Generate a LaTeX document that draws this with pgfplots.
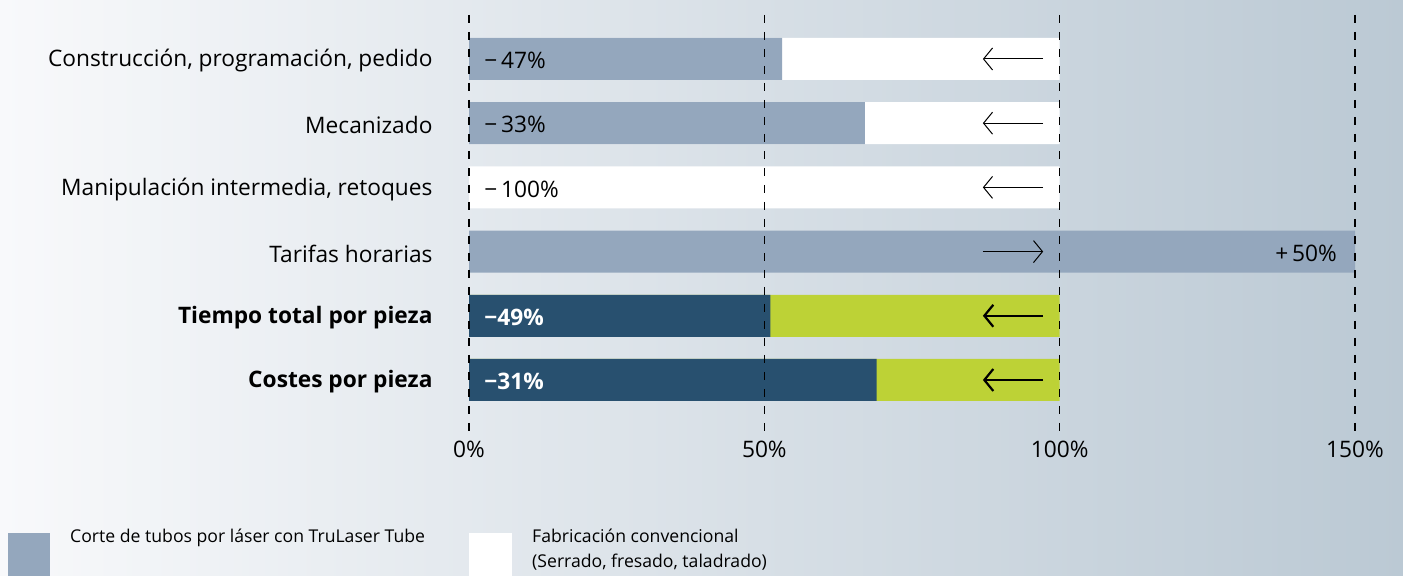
\documentclass[border=0pt]{standalone}
\usepackage{fontspec}
\setmainfont{Open Sans}
\usepackage{pgfplots}
\pgfplotsset{compat=1.18}
\usetikzlibrary{arrows.meta}
\definecolor{lightbar}{HTML}{94A7BD}
\definecolor{darkbar}{HTML}{28506F}
\definecolor{limebar}{HTML}{BDD236}
\definecolor{bgL}{HTML}{F8F9FB}
\definecolor{bgR}{HTML}{BBC9D4}
\newcommand{\lbl}{\fontsize{22.8}{26}\selectfont}
\tikzset{thinarr/.style={line width=1bp, -{Straight Barb[length=9bp, width=22bp, line width=1bp]}},
  thickarr/.style={line width=2.2bp, -{Straight Barb[length=9bp, width=22bp, line width=2.2bp]}}}
\begin{document}
\begin{tikzpicture}[x=1bp,y=1bp]
\shade[left color=bgL,right color=bgR] (0,0) rectangle (1403,576);
\begin{axis}[at={(469bp,144bp)}, anchor=south west, scale only axis,
  width=886bp, height=417bp, xmin=0, xmax=150, ymin=0.315, ymax=6.81,
  y dir=reverse, axis line style={draw=none}, major tick length=0pt,
  axis on top,
  xtick={0,50,100,150}, xticklabels={0\%,50\%,100\%,150\%},
  xmajorgrids, major grid style={black, line width=1.1bp, dash pattern=on 8bp off 9bp},
  ytick={1,2,3,4,5,6},
  yticklabels={{Construcción, programación, pedido}, Mecanizado, {Manipulación intermedia, retoques}, Tarifas horarias, \textbf{Tiempo total por pieza}, \textbf{Costes por pieza}},
  yticklabel style={font=\lbl, xshift=-33bp, yshift=-2bp},
  xticklabel style={font=\lbl, yshift=-6bp},
  clip=false]
\addplot[xbar, bar width=42bp, bar shift=0pt, fill=white, draw=none] coordinates {(100,1) (100,2) (100,3)};
\addplot[xbar, bar width=42bp, bar shift=0pt, fill=limebar, draw=none] coordinates {(100,5) (100,6)};
\addplot[xbar, bar width=42bp, bar shift=0pt, fill=lightbar, draw=none] coordinates {(53,1) (67,2) (150,4)};
\addplot[xbar, bar width=42bp, bar shift=0pt, fill=darkbar, draw=none] coordinates {(51,5) (69,6)};
\node[anchor=west, font=\lbl, yshift=-1.5bp] at (axis cs:2.0,1) {−\,47\%};
\node[anchor=west, font=\lbl, yshift=-1.5bp] at (axis cs:2.0,2) {−\,33\%};
\node[anchor=west, font=\lbl, yshift=-1.5bp] at (axis cs:2.0,3) {−\,100\%};
\node[anchor=east, font=\lbl, yshift=-1.5bp] at (axis cs:147.5,4) {+\,50\%};
\node[anchor=west, font=\lbl\bfseries, text=white, yshift=-1.5bp] at (axis cs:2.0,5) {−49\%};
\node[anchor=west, font=\lbl\bfseries, text=white, yshift=-1.5bp] at (axis cs:2.0,6) {−31\%};
\draw[thinarr] (axis cs:97.2,1) -- (axis cs:87,1);
\draw[thinarr] (axis cs:97.2,2) -- (axis cs:87,2);
\draw[thinarr] (axis cs:97.2,3) -- (axis cs:87,3);
\draw[thinarr] (axis cs:87,4) -- (axis cs:97.2,4);
\draw[thickarr] (axis cs:97.2,5) -- (axis cs:87,5);
\draw[thickarr] (axis cs:97.2,6) -- (axis cs:87,6);
\end{axis}
\fill[lightbar] (8,0) rectangle (50,43);
\fill[white] (469,0) rectangle (512,43);
\node[anchor=north west, inner sep=0pt, font=\fontsize{17.7}{25}\selectfont, align=left] at (70,47) {Corte de tubos por láser con TruLaser Tube};
\node[anchor=north west, inner sep=0pt, font=\fontsize{17.7}{25}\selectfont, align=left] at (532,47) {Fabricación convencional\\(Serrado, fresado, taladrado)};
\end{tikzpicture}
\end{document}
